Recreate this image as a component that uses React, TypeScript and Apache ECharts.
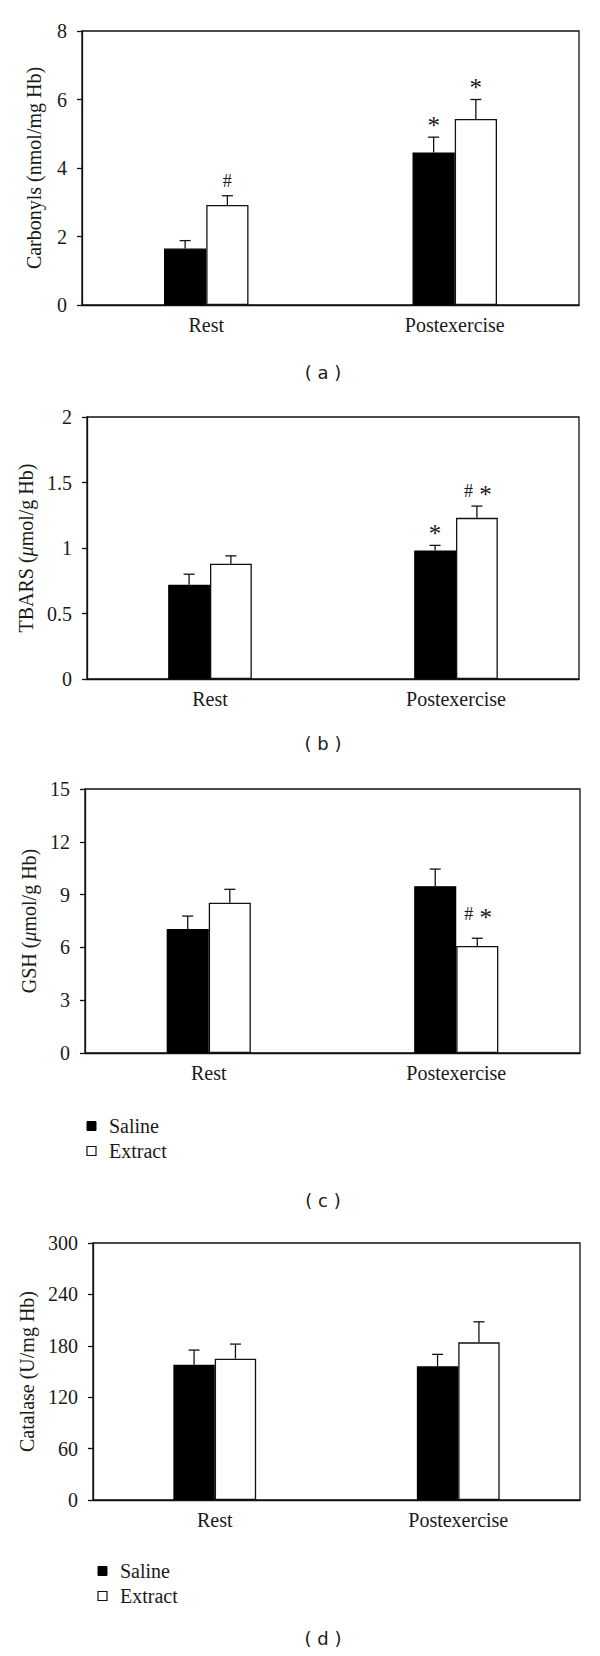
import React, { useEffect, useRef } from 'react';
import * as echarts from 'echarts';

// ---------- data ----------
const categories = ['Rest', 'Postexercise'];
const groupNames = ['Saline', 'Extract'];

// (a) Carbonyls (nmol/mg Hb)
const carbonylTicks = [0, 2, 4, 6, 8];
const carbonylSaline = [1.65, 4.45];
const carbonylSalineErr = [0.23, 0.45];
const carbonylExtract = [2.92, 5.43];
const carbonylExtractErr = [0.27, 0.57];
const carbonylSalineMarks = ['', '*'];
const carbonylExtractMarks = ['#', '*'];

// (b) TBARS (µmol/g Hb)
const tbarsTicks = [0, 0.5, 1, 1.5, 2];
const tbarsSaline = [0.72, 0.98];
const tbarsSalineErr = [0.08, 0.04];
const tbarsExtract = [0.88, 1.23];
const tbarsExtractErr = [0.06, 0.09];
const tbarsSalineMarks = ['', '*'];
const tbarsExtractMarks = ['', '# *'];

// (c) GSH (µmol/g Hb)
const gshTicks = [0, 3, 6, 9, 12, 15];
const gshSaline = [7.04, 9.48];
const gshSalineErr = [0.74, 0.97];
const gshExtract = [8.54, 6.08];
const gshExtractErr = [0.76, 0.44];
const gshSalineMarks = ['', ''];
const gshExtractMarks = ['', '# *'];

// (d) Catalase (U/mg Hb)
const catalaseTicks = [0, 60, 120, 180, 240, 300];
const catalaseSaline = [158, 156];
const catalaseSalineErr = [17, 14];
const catalaseExtract = [165, 184];
const catalaseExtractErr = [17, 24];
const catalaseSalineMarks = ['', ''];
const catalaseExtractMarks = ['', ''];

// ---------- layout / styles ----------
const SERIF = '"Liberation Serif", "Times New Roman", serif';
const INK = '#111';
const TXT = '#1a1a1a';
const FS = 20;

const panels = [
  {
    name: 'Carbonyls (nmol/mg Hb)', ticks: carbonylTicks,
    saline: carbonylSaline, salineErr: carbonylSalineErr, extract: carbonylExtract, extractErr: carbonylExtractErr,
    salineMarks: carbonylSalineMarks, extractMarks: carbonylExtractMarks,
    left: 82, right: 579, top: 31, bottom: 305, nameGap: 38, markGap: 15,
    caption: '( a )', captionY: 372, legendY: null as null | number, legendX: 0,
  },
  {
    name: 'TBARS ({i|μ}mol/g Hb)', ticks: tbarsTicks,
    saline: tbarsSaline, salineErr: tbarsSalineErr, extract: tbarsExtract, extractErr: tbarsExtractErr,
    salineMarks: tbarsSalineMarks, extractMarks: tbarsExtractMarks,
    left: 87, right: 579, top: 417, bottom: 679, nameGap: 44, markGap: 15,
    caption: '( b )', captionY: 743, legendY: null as null | number, legendX: 0,
  },
  {
    name: 'GSH ({i|μ}mol/g Hb)', ticks: gshTicks,
    saline: gshSaline, salineErr: gshSalineErr, extract: gshExtract, extractErr: gshExtractErr,
    salineMarks: gshSalineMarks, extractMarks: gshExtractMarks,
    left: 85, right: 580, top: 789, bottom: 1053, nameGap: 41, markGap: 24,
    caption: '( c )', captionY: 1200, legendY: 1126 as null | number, legendX: 87,
  },
  {
    name: 'Catalase (U/mg Hb)', ticks: catalaseTicks,
    saline: catalaseSaline, salineErr: catalaseSalineErr, extract: catalaseExtract, extractErr: catalaseExtractErr,
    salineMarks: catalaseSalineMarks, extractMarks: catalaseExtractMarks,
    left: 93, right: 580, top: 1243, bottom: 1500, nameGap: 51, markGap: 15,
    caption: '( d )', captionY: 1638, legendY: 1571 as null | number, legendX: 98,
  },
];

function errorSeries(pi: number, gi: number, means: number[], errs: number[], marks: string[], markGap: number) {
  return {
    type: 'custom',
    name: groupNames[gi] + ' error',
    xAxisIndex: pi,
    yAxisIndex: pi,
    z: 5,
    silent: true,
    data: means.map((m, i) => [i, m, errs[i]]),
    encode: { x: 0, y: 1 },
    renderItem: (params: any, api: any) => {
      const ci = api.value(0);
      const m = api.value(1);
      const e = api.value(2);
      const base = api.coord([ci, m]);
      const top = api.coord([ci, m + e]);
      const band = api.size([1, 0])[0];
      const x = base[0] + (gi === 0 ? -1 : 1) * 0.085 * band;
      const children: any[] = [
        { type: 'line', shape: { x1: x, y1: base[1], x2: x, y2: top[1] }, style: { stroke: INK, lineWidth: 1.3 } },
        { type: 'line', shape: { x1: x - 5.5, y1: top[1], x2: x + 5.5, y2: top[1] }, style: { stroke: INK, lineWidth: 1.3 } },
      ];
      const mark = marks[params.dataIndex];
      if (mark) {
        const tokens = mark.split(' ');
        tokens.forEach((t, k) => {
          const dx = tokens.length === 1 ? 0 : (k === 0 ? -8.5 : 8.5);
          children.push({
            type: 'text',
            x: x + dx,
            y: top[1] - markGap + (t === '*' ? 3 : 0),
            style: {
              text: t,
              font: t === '*' ? `25px ${SERIF}` : `18px ${SERIF}`,
              fill: TXT,
              align: 'center',
              verticalAlign: 'middle',
            },
          });
        });
      }
      return { type: 'group', children };
    },
  };
}

function buildOption() {
  const grid: any[] = [];
  const xAxis: any[] = [];
  const yAxis: any[] = [];
  const series: any[] = [];
  const graphic: any[] = [];

  panels.forEach((p, i) => {
    grid.push({
      left: p.left, top: p.top, width: p.right - p.left, height: p.bottom - p.top,
      show: true, borderColor: INK, borderWidth: 1.3, backgroundColor: 'transparent',
    });
    xAxis.push({
      gridIndex: i, type: 'category', data: categories,
      axisLine: { show: true, lineStyle: { color: INK, width: 1.3 } },
      axisTick: { show: false },
      axisLabel: { margin: 10, fontSize: FS, color: TXT, fontFamily: SERIF },
      splitLine: { show: false },
    });
    const t = p.ticks;
    yAxis.push({
      gridIndex: i, type: 'value',
      min: t[0], max: t[t.length - 1], interval: t[1] - t[0],
      name: p.name, nameLocation: 'middle', nameRotate: 90, nameGap: p.nameGap,
      nameTextStyle: {
        fontSize: FS, color: TXT, fontFamily: SERIF,
        rich: { i: { fontStyle: 'italic', fontSize: FS, color: TXT, fontFamily: SERIF } },
      },
      axisLine: { show: true, lineStyle: { color: INK, width: 1.3 } },
      axisTick: { show: true, inside: false, length: 5, lineStyle: { color: INK, width: 1.3 } },
      axisLabel: { margin: 15, fontSize: FS, color: TXT, fontFamily: SERIF },
      splitLine: { show: false },
    });
    series.push({
      type: 'bar', name: groupNames[0], xAxisIndex: i, yAxisIndex: i,
      data: p.saline, barWidth: '17%', barGap: '0%',
      itemStyle: { color: '#000', borderColor: '#000', borderWidth: 1.3 },
    });
    series.push({
      type: 'bar', name: groupNames[1], xAxisIndex: i, yAxisIndex: i,
      data: p.extract, barWidth: '17%', barGap: '0%',
      itemStyle: { color: '#fff', borderColor: INK, borderWidth: 1.3 },
    });
    series.push(errorSeries(i, 0, p.saline, p.salineErr, p.salineMarks, p.markGap));
    series.push(errorSeries(i, 1, p.extract, p.extractErr, p.extractMarks, p.markGap));

    graphic.push({
      type: 'text', x: 323, y: p.captionY,
      style: { text: p.caption, font: `18px "DejaVu Sans", sans-serif`, fill: TXT, align: 'center', verticalAlign: 'middle' },
    });

    if (p.legendY !== null) {
      const ly = p.legendY as number;
      const lx = p.legendX;
      graphic.push({ type: 'rect', shape: { x: lx, y: ly - 4.5, width: 9, height: 9 }, style: { fill: '#000', stroke: '#000', lineWidth: 1 } });
      graphic.push({ type: 'rect', shape: { x: lx, y: ly + 25 - 4.5, width: 9, height: 9 }, style: { fill: '#fff', stroke: INK, lineWidth: 1.2 } });
      graphic.push({ type: 'text', x: lx + 22, y: ly, style: { text: groupNames[0], font: `${FS}px ${SERIF}`, fill: TXT, align: 'left', verticalAlign: 'middle' } });
      graphic.push({ type: 'text', x: lx + 22, y: ly + 25, style: { text: groupNames[1], font: `${FS}px ${SERIF}`, fill: TXT, align: 'left', verticalAlign: 'middle' } });
    }
  });

  return {
    animation: false,
    backgroundColor: '#fff',
    textStyle: { fontFamily: SERIF },
    grid, xAxis, yAxis, series, graphic,
  };
}

export default function App() {
  const ref = useRef<HTMLDivElement>(null);
  useEffect(() => {
    if (!ref.current) return;
    const chart = echarts.init(ref.current, undefined, { renderer: 'svg' });
    chart.setOption(buildOption() as any);
    return () => chart.dispose();
  }, []);
  return (
    <div
      ref={ref}
      style={{ position: 'absolute', left: 0, top: 0, width: 600, height: 1656, background: '#fff' }}
    />
  );
}
